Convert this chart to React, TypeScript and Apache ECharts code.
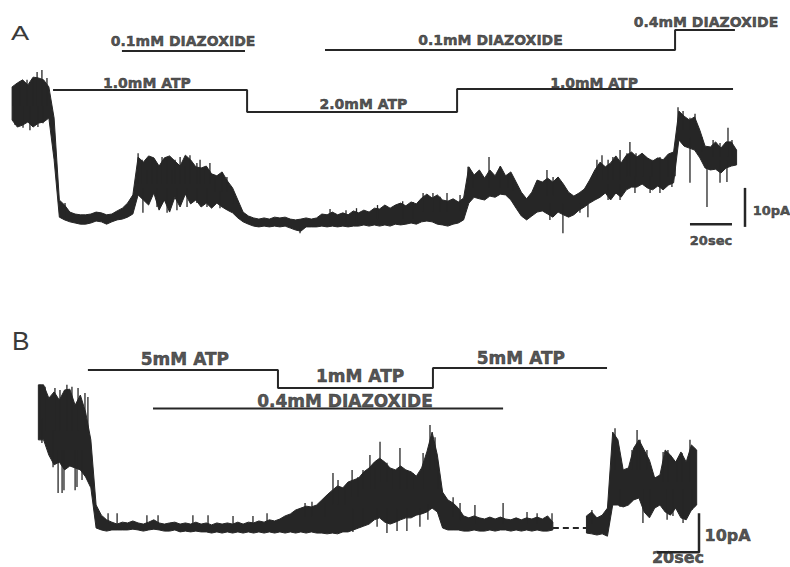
import { useEffect, useRef } from 'react';
import * as echarts from 'echarts';

// Envelope of the patch-clamp current: upper and lower edge of the noisy
// trace, one pair every STEP seconds (pA).
const STEP = 2.5;

// ---- Record A ----
const traceAStart = 1;
const traceAHi = [
  34.9, 35.9, 36.7, 35.4, 37.4, 37.2, 36.7, 34.9,
  26.9, 5.9, 4.6, 2.8, 2.3, 2.1, 2.1, 2.3, 2.8, 2.6, 2.1, 2.3, 3.1, 3.8, 5.1, 7.2,
  16.9, 15.6, 17.2, 16.7, 14.6, 16.7, 17.2, 15.9, 14.6, 17.4, 16.2, 14.4, 14.1, 14.6, 12.6, 12.1, 13.1, 10.8, 9.0, 5.9, 2.8, 1.8,
  1.3, 1.0, 1.3, 1.0, 1.5, 1.3, 1.5, 1.0, 0.8, 1.0, 1.3, 1.0, 1.3, 2.3, 2.1, 2.8, 2.1, 2.6, 2.1, 3.1, 2.6, 3.3, 2.8, 3.8,
  3.6, 4.6, 3.8, 4.6, 5.1, 4.4, 5.4, 4.9, 6.4, 7.4, 6.4, 7.2, 5.9, 5.6, 6.2, 5.4, 6.4,
  14.4, 12.3, 13.6, 11.5, 13.6, 12.1, 14.6, 12.1, 13.1, 10.5, 7.9, 6.2, 7.9, 11.0, 10.5, 11.5, 10.5, 11.8, 10.0, 7.9,
  6.9, 7.7, 8.7, 11.0, 13.6, 15.6, 14.4, 15.4, 17.2, 15.4, 17.4, 18.2, 16.9, 17.9, 16.7, 15.9, 16.7, 16.2, 17.7, 18.2,
  28.7, 27.4, 26.4, 27.2, 23.8, 19.7, 19.5, 20.8, 19.2, 20.8, 20.8, 18.7,
];
const traceALo = [
  26.4, 24.6, 25.1, 25.9, 24.6, 25.6, 25.9, 26.9,
  16.2, 1.5, 0.8, 0.3, 0, -0.3, -0.3, 0, 0.5, 0.3, -0.3, 0.3, 0.8, 1.0, 1.5, 2.3,
  7.2, 5.9, 4.6, 7.7, 3.3, 5.9, 2.8, 6.6, 4.1, 7.4, 4.9, 5.9, 4.1, 5.1, 3.8, 5.1, 4.1, 3.3, 2.6, 1.3, 0.3, -0.3,
  -0.8, -1.0, -0.8, -1.0, -0.8, -1.0, -0.8, -1.3, -1.8, -2.1, -1.0, -1.0, -1.0, -0.8, -1.0, -0.8, -1.0, -0.8, -1.0, -0.8,
  -0.8, -0.5, -0.8, -0.5, -0.8, -0.5, -0.8, -0.3, -0.5, -0.3, 0, -0.3, 0.3, 0.5, 0.3, -0.3, -0.5, -0.8, -0.3, 0, 0.8,
  5.1, 6.6, 6.2, 5.9, 6.9, 6.6, 7.4, 7.2, 5.9, 3.8, 1.8, 0.8, 1.8, 2.8, 3.1, 2.3, 1.5, 2.8, 2.1, 1.5,
  2.1, 3.3, 4.1, 5.1, 5.9, 6.6, 7.7, 5.9, 7.7, 6.6, 8.5, 9.2, 9.2, 10.0, 9.0, 8.5, 9.5, 8.5, 9.7, 10.3,
  21.3, 19.7, 19.2, 18.7, 16.7, 14.1, 13.6, 13.8, 12.8, 14.1, 14.6, 14.9,
];
// Single brief excursions: [time s, from pA, to pA]
const spikesA = [
  [1.4, 30, 34.9], [4.8, 30, 36.2], [8.1, 30, 36.7], [11.0, 30, 37.2], [12.9, 30, 38.7], [15.2, 30, 39.2], [17.6, 30, 37.2],
  [2.4, 30, 25.1], [6.2, 30, 24.4], [9.5, 30, 23.8], [13.3, 30, 24.6], [15.7, 30, 25.6],
  [26.2, 1.5, 5.1],
  [61.0, 10, 17.9], [62.9, 10, 16.2], [65.2, 10, 13.6], [67.6, 10, 16.2], [70.0, 10, 14.4], [72.4, 10, 16.9],
  [74.8, 10, 16.2], [77.1, 10, 13.6], [78.6, 10, 16.2], [81.0, 10, 16.9], [83.3, 10, 14.4], [85.7, 10, 17.4],
  [89.0, 10, 15.4], [90.5, 10, 16.2], [92.9, 10, 13.6], [95.2, 10, 15.4], [97.6, 8, 11.8], [101.0, 8, 12.8],
  [103.3, 8, 11.8], [106.2, 5, 7.7],
  [63.3, 9, 2.6], [70.0, 9, 4.1], [74.8, 9, 2.6], [79.5, 9, 3.3], [84.3, 9, 4.1], [89.0, 9, 5.1], [93.8, 9, 4.1], [100, 8, 3.8],
  [138.1, -1, -2.6],
  [152.4, 0, 3.6], [160, 0, 3.3], [165, 0, 3.8], [175, 1, 4.6], [187, 1, 5.6], [192, 1, 5.4],
  [196.7, 3, 7.7], [201.4, 3, 7.7], [204.8, 3, 6.7], [208.1, 3, 7.7], [214.3, 3, 7.2],
  [218.1, 9, 14.4], [220.5, 9, 12.3], [228.1, 9, 16.9], [233.3, 9, 14.4], [237.1, 9, 12.3], [239.5, 8, 11.0],
  [255.7, 7, 13.6], [258.6, 7, 11.8], [279.5, 11, 16.2], [281.9, 11, 17.4], [284.8, 11, 16.2], [287.1, 11, 16.9],
  [290.5, 11, 18.7], [293.8, 12, 17.9], [295.2, 12, 20.8], [298.1, 12, 17.9], [301.4, 12, 16.9], [305.7, 12, 16.2],
  [309.5, 12, 16.9], [313.3, 12, 16.9], [316.7, 12, 17.9],
  [318.1, 24, 29.7], [320.5, 24, 28.7], [323.8, 24, 27.0], [326.2, 24, 28.0], [329.5, 18, 22.0], [334.8, 17, 21.3],
  [338.1, 17, 20.5], [341.9, 17, 24.4], [343.8, 17, 21.3],
  [257.1, 5, 0.8], [263.3, 5, -2.6], [271.4, 5, 2.6], [275.2, 5, 1.5], [284.8, 10, 5.9], [290.5, 10, 5.9],
  [297.6, 12, 7.7], [304.8, 12, 7.7], [309.5, 12, 7.7], [315.2, 13, 9.2], [323.8, 22, 10.3], [331.9, 16, 4.1],
  [338.1, 16, 10.3], [341.4, 16, 10.5],
];
// Solution changes (s)
const atpChangesA = [20.5, 112.9, 212.9, 344.3];
const atpNamesA = ['1.0mM ATP', '2.0mM ATP', '1.0mM ATP'];
const diazoxideFirstA = [53.3, 111.9];
const diazoxideFirstNamesA = ['0.1mM DIAZOXIDE'];
const diazoxideSecondA = [150, 316.7, 345.2];
const diazoxideSecondNamesA = ['0.1mM DIAZOXIDE', '0.4mM DIAZOXIDE'];

// ---- Record B ----
const traceB1Start = 13.5;
const traceB1Hi = [
  36.7, 36.7, 33.3, 34.9, 32.8, 35.4, 35.6, 31.5, 34.1, 29.7, 22.6, 5.9,
  3.3, 2.1, 1.5, 1.0, 1.5, 1.3, 1.8, 1.3, 1.0, 1.5, 2.1, 1.3, 1.0, 1.3, 1.5, 1.0, 1.3, 1.0, 1.5, 1.0,
  1.3, 0.8, 1.3, 1.0, 1.3, 1.0, 1.5, 1.0, 1.5, 1.3, 1.8, 1.5, 2.1, 1.8, 2.3,
  3.1, 3.6, 4.6, 5.1, 5.6, 5.4, 5.9, 7.2, 8.5, 9.7, 10.8, 10.3, 11.8, 12.3, 12.8, 14.4, 15.4, 16.9, 17.9, 16.9,
  15.4, 14.9, 15.9, 14.9, 14.4, 13.3, 15.4, 19.5, 24.6, 18.7, 9.2, 7.2, 6.4, 5.1, 3.1, 2.6, 3.1, 2.6, 2.3, 2.8,
  2.3, 2.8, 2.3, 2.1, 2.6, 2.1, 2.6, 2.3, 2.8, 2.3, 3.1, 1.5,
];
const traceB1Lo = [
  22.6, 22.6, 18.7, 16.2, 16.9, 14.9, 15.9, 15.4, 14.9, 13.1, 10.3, 0,
  -0.5, -0.8, -0.5, -0.5, -0.5, -0.5, -0.3, -0.5, -0.8, -0.5, -0.3, -0.5, -0.8, -0.8, -0.5, -1.0, -0.8, -1.0, -0.8, -1.0,
  -1.0, -1.3, -1.0, -1.3, -1.0, -1.3, -1.0, -1.3, -1.0, -1.3, -1.0, -1.3, -1.0, -1.3, -1.0,
  -1.3, -1.0, -1.3, -1.0, -1.3, -1.0, -1.3, -1.3, -1.5, -1.3, -1.5, -1.0, -1.0, -0.5, 0, 0.5, 1.0, 2.1, 2.6, 1.5,
  1.0, 1.5, 2.1, 2.6, 2.6, 3.3, 3.6, 4.1, 5.1, 4.1, 0, -0.5, -0.5, -0.5, -0.8, -0.8, -0.5, -0.8, -0.8, -0.5,
  -0.8, -0.5, -0.5, -0.8, -0.5, -0.8, -0.5, -0.8, -0.5, -0.8, -0.8, -0.5,
];
const traceB2Start = 274.5;
const traceB2Hi = [3.1, 4.1, 2.6, 3.3, 5.1, 24.6, 22.6, 14.9, 15.4, 20.5, 22.6, 20.0, 17.4, 12.8, 13.6, 20.0, 18.7, 16.9, 19.5, 16.9, 21.3, 20.0];
const traceB2Lo = [-1.3, -1.5, -1.8, -1.5, -2.1, 5.9, 5.9, 5.4, 5.9, 7.2, 7.7, 4.1, 2.6, 5.1, 5.9, 4.1, 3.3, 5.1, 2.6, 2.1, 4.6, 5.9];
const gapB = [258.5, 274.5]; // recording interrupted (s)
const spikesB = [
  [14.3, 25, 36.7], [16.7, 25, 36.2], [21.4, 25, 35.9], [23.8, 25, 35.4], [27.1, 25, 36.7], [29.5, 25, 36.2],
  [32.4, 25, 35.9], [35.7, 25, 34.6], [37.1, 25, 33.6],
  [15.2, 28, 21.8], [20.5, 25, 15.6], [22.9, 20, 9.0], [24.8, 20, 9.0], [25.7, 20, 9.7], [31.0, 20, 9.7],
  [31.9, 20, 10.5], [34.3, 20, 12.3],
  [46.7, 1, 3.8], [51.0, 1, 3.8], [65.2, 1, 3.3], [70.5, 1, 3.3], [87.1, 1, 3.3], [94.3, 1, 3.3],
  [106.2, 1, 3.1], [115.7, 1, 3.1], [122.4, 1, 3.8],
  [140.5, 3, 6.4], [143.8, 3, 6.7], [150, 3, 6.4], [153.8, 6, 14.1], [156.2, 6, 12.3], [159.5, 6, 10.5],
  [162.9, 8, 14.9], [165.7, 8, 13.1], [168.1, 10, 14.9], [171.4, 10, 18.7], [173.8, 10, 15.6], [176.2, 12, 22.1],
  [179.5, 12, 16.7], [182.4, 10, 14.9], [185.7, 10, 20.5], [189.0, 10, 14.9], [191.9, 10, 14.1], [196.7, 10, 19.2],
  [200, 15, 26.4], [202.4, 15, 23.3], [203.8, 10, 16.7], [211, 3, 7.9], [214.3, 2, 6.4], [221.4, 1, 5.9],
  [234.8, 1, 6.4], [246.2, 1, 4.1], [251, 1, 3.8], [258.1, 1, 3.8],
  [163.3, 5, -1.0], [168.1, 5, 0.5], [174.8, 5, 0.3], [179.5, 5, -1.3], [184.3, 5, -0.8], [189.0, 5, -0.8],
  [195.2, 5, 0.3], [199.0, 6, 2.1],
  [277.1, 1, 4.6], [285.2, 1, 5.9], [288.1, 15, 25.6], [296.2, 15, 20.0], [298.6, 15, 25.1], [300, 15, 22.6],
  [303.3, 15, 20.0], [311, 12, 19.5], [313.3, 12, 20.0], [317.6, 12, 17.4], [320, 12, 19.2], [323.8, 12, 22.6],
  [326.2, 12, 16.7],
  [290.5, 10, 5.4], [301.4, 10, 1.3], [304.8, 10, 4.1], [312.9, 10, 2.1], [315.7, 10, 3.1], [320.5, 10, 1.3],
  [324.8, 10, 4.6],
];
const atpChangesB = [37.1, 127.6, 201.4, 284.3];
const atpNamesB = ['5mM ATP', '1mM ATP', '5mM ATP'];
const diazoxideB = [68.1, 234.8];
const diazoxideNamesB = ['0.4mM DIAZOXIDE'];

// Calibration: 10 pA, 20 sec
const calAmp = 10;
const calTime = 20;

const INK = '#262626';
const FONT = '"DejaVu Sans", sans-serif';

// ---- layout (page rows for the solution bars, label anchors) ----
const GRID_A = { top: 4.6, height: 245.7, min: -7, max: 56 };
const GRID_B = { top: 336.9, height: 230.1, min: -10, max: 49 };
const atpRowsA = [90, 112, 89];
const atpLabelPosA = [[65.2, 83], [168.3, 103.5], [278.1, 83]];
const diazFirstRowsA = [51];
const diazFirstLabelPosA = [[82.4, 40.5]];
const diazSecondRowsA = [50, 30];
const diazSecondLabelPosA = [[228.8, 40], [331.4, 22]];
const atpRowsB = [370, 388, 368];
const atpLabelPosB = [[83.3, 359], [166.7, 376], [243.3, 357.5]];
const diazRowsB = [408.5];
const diazLabelPosB = [[159.5, 401]];

function band(start: number, hi: number[], lo: number[], xi: number, yi: number) {
  const n = Math.min(hi.length, lo.length);
  return {
    type: 'custom',
    xAxisIndex: xi,
    yAxisIndex: yi,
    clip: false,
    silent: true,
    z: 3,
    data: [[start, hi[0]]],
    renderItem: (_p: any, api: any) => {
      const up: number[][] = [];
      const down: number[][] = [];
      for (let i = 0; i < n; i++) {
        const t = start + i * STEP;
        up.push(api.coord([t, hi[i]]));
        down.push(api.coord([t, lo[i]]));
      }
      return {
        type: 'polygon',
        shape: { points: up.concat(down.reverse()) },
        style: { fill: INK, stroke: INK, lineWidth: 1, lineJoin: 'miter' },
      };
    },
  };
}

function spikes(list: number[][], xi: number, yi: number) {
  return {
    type: 'custom',
    xAxisIndex: xi,
    yAxisIndex: yi,
    clip: false,
    silent: true,
    z: 3,
    data: list,
    renderItem: (_p: any, api: any) => {
      const a = api.coord([api.value(0), api.value(1)]);
      const b = api.coord([api.value(0), api.value(2)]);
      return {
        type: 'line',
        shape: { x1: a[0], y1: a[1], x2: b[0], y2: b[1] },
        style: { stroke: INK, lineWidth: 1.3 },
      };
    },
  };
}

function stepBar(times: number[], rows: number[], xi: number, yi: number) {
  const pts: number[][] = [];
  rows.forEach((r, k) => {
    pts.push([times[k], r], [times[k + 1], r]);
  });
  return {
    type: 'line',
    xAxisIndex: xi,
    yAxisIndex: yi,
    data: pts,
    symbol: 'none',
    silent: true,
    clip: false,
    lineStyle: { color: INK, width: 2 },
  };
}

function line(pts: number[][], xi: number, yi: number, width: number, dash?: number[]) {
  return {
    type: 'line',
    xAxisIndex: xi,
    yAxisIndex: yi,
    data: pts,
    symbol: 'none',
    silent: true,
    clip: false,
    lineStyle: { color: INK, width, type: dash || 'solid', cap: 'butt' },
  };
}

function labels(names: string[], pos: number[][], xi: number, yi: number, size: number) {
  return {
    type: 'scatter',
    xAxisIndex: xi,
    yAxisIndex: yi,
    symbolSize: 1,
    silent: true,
    clip: false,
    z: 5,
    itemStyle: { color: 'rgba(0,0,0,0)' },
    data: names.map((name, k) => ({ name, value: pos[k] })),
    label: {
      show: true,
      position: 'inside',
      formatter: '{b}',
      color: INK,
      fontFamily: FONT,
      fontWeight: 'bold',
      fontSize: size,
      textBorderColor: INK,
      textBorderWidth: 0.5,
    },
  };
}

export default function App() {
  const ref = useRef<HTMLDivElement>(null);

  useEffect(() => {
    document.body.style.margin = '0';
    const chart = echarts.init(ref.current!, undefined, { renderer: 'svg' });

    const xAxis = [0, 1].map((g) => ({ type: 'value', gridIndex: g, min: 0, max: 370, show: false }));
    const yAxis = [
      { type: 'value', gridIndex: 0, min: GRID_A.min, max: GRID_A.max, show: false },
      { type: 'value', gridIndex: 0, min: GRID_A.top, max: GRID_A.top + GRID_A.height, inverse: true, show: false },
      { type: 'value', gridIndex: 1, min: GRID_B.min, max: GRID_B.max, show: false },
      { type: 'value', gridIndex: 1, min: GRID_B.top, max: GRID_B.top + GRID_B.height, inverse: true, show: false },
    ];

    // calibration bars
    const calA = { t: 323.8, v: -0.3, vt: 350, v0: -1 };
    const calB = { t: 308.1, v: -6.2 };

    chart.setOption({
      animation: false,
      backgroundColor: '#ffffff',
      grid: [
        { left: 10, width: 777, top: GRID_A.top, height: GRID_A.height },
        { left: 10, width: 777, top: GRID_B.top, height: GRID_B.height },
      ],
      xAxis,
      yAxis,
      graphic: [
        { type: 'text', x: 11, y: 22, scaleX: 1.3, style: { text: 'A', font: '21px "Liberation Sans"', fill: '#3a3a3a' } },
        { type: 'text', x: 12, y: 329, scaleX: 1.05, style: { text: 'B', font: '25px "Liberation Sans"', fill: '#3a3a3a' } },
      ],
      series: [
        band(traceAStart, traceAHi, traceALo, 0, 0),
        spikes(spikesA, 0, 0),
        stepBar(atpChangesA, atpRowsA, 0, 1),
        stepBar(diazoxideFirstA, diazFirstRowsA, 0, 1),
        stepBar(diazoxideSecondA, diazSecondRowsA, 0, 1),
        labels(atpNamesA, atpLabelPosA, 0, 1, 14),
        labels(diazoxideFirstNamesA, diazFirstLabelPosA, 0, 1, 14),
        labels(diazoxideSecondNamesA, diazSecondLabelPosA, 0, 1, 14),
        line([[calA.t, calA.v], [calA.t + calTime, calA.v]], 0, 0, 2.5),
        line([[calA.vt, calA.v0], [calA.vt, calA.v0 + calAmp]], 0, 0, 2.5),
        labels(['10pA', '20sec'], [[362.6, 3.3], [333.8, -4.6]], 0, 0, 13),

        band(traceB1Start, traceB1Hi, traceB1Lo, 1, 2),
        band(traceB2Start, traceB2Hi, traceB2Lo, 1, 2),
        spikes(spikesB, 1, 2),
        line([[gapB[0], 0], [gapB[1], 0]], 1, 2, 2, [6, 4]),
        stepBar(atpChangesB, atpRowsB, 1, 3),
        stepBar(diazoxideB, diazRowsB, 1, 3),
        labels(atpNamesB, atpLabelPosB, 1, 3, 17),
        labels(diazoxideNamesB, diazLabelPosB, 1, 3, 17),
        line([[calB.t, calB.v], [calB.t + calTime, calB.v], [calB.t + calTime, calB.v + calAmp]], 1, 2, 2.5),
        labels(['10pA', '20sec'], [[341.7, -2.05], [318.1, -7.6]], 1, 2, 16),
      ],
    });

    return () => chart.dispose();
  }, []);

  return <div ref={ref} style={{ position: 'fixed', left: 0, top: 0, width: 790, height: 567 }} />;
}
